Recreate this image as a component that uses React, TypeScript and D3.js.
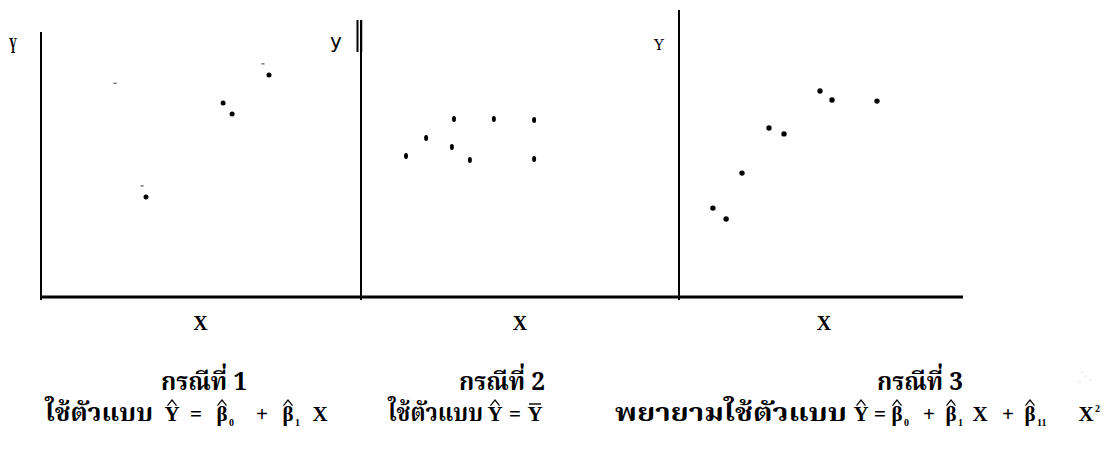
import React from "react";
import * as d3 from "d3";

// Data (arbitrary units 0..100 per panel)
const case1X = [35, 60.7, 63.7, 76];
const case1Y = [35.4, 68.9, 65, 78.9];
const case1TickX = [24.7, 33.7, 74];
const case1TickY = [76, 39.3, 82.9];

const case2X = [15, 21.7, 31, 30.3, 36.3, 44.3, 57.7, 57.7];
const case2Y = [50, 56.4, 63.2, 53.2, 48.6, 63.2, 62.9, 48.9];

const case3X = [11.3, 15.7, 21, 30, 35, 47, 51, 66];
const case3Y = [31.4, 27.5, 43.9, 60, 57.9, 73.2, 70, 69.6];

const caseTitles = ["กรณีที่ 1", "กรณีที่ 2", "กรณีที่ 3"];
const modelPrefix = ["ใช้ตัวแบบ", "ใช้ตัวแบบ", "พยายามใช้ตัวแบบ"];
const axisLabelX = "X";

const W = 1108;
const H = 449;
const baseY = 297;

const panels = [
  { ox: 41, end: 360, top: 32 },
  { ox: 361, end: 679, top: 20 },
  { ox: 679, end: 963, top: 10 },
];

const makeX = (ox: number) => d3.scaleLinear().domain([0, 100]).range([ox, ox + 300]);
const yScale = d3.scaleLinear().domain([0, 100]).range([296, 16]);

const thai = "'Noto Serif Thai', 'Noto Sans Thai', 'Tlwg Typo', 'Loma', 'DejaVu Serif', serif";
const serif = "'Liberation Serif', 'DejaVu Serif', serif";

function Hat({ x, y, w = 9 }: { x: number; y: number; w?: number }) {
  return (
    <path d={`M${x - w / 2},${y + 3} L${x},${y - 2.5} L${x + w / 2},${y + 3}`} fill="none" stroke="#000" strokeWidth={1.2} />
  );
}

function HatSym({ x, y, ch, size = 21 }: { x: number; y: number; ch: string; size?: number }) {
  return (
    <g>
      <text x={x} y={y} fontFamily={serif} fontWeight="bold" fontSize={size} textAnchor="middle">{ch}</text>
      <Hat x={x} y={y - size * 0.88} />
    </g>
  );
}

function Sym({ x, y, ch, size = 21 }: { x: number; y: number; ch: string; size?: number }) {
  return <text x={x} y={y} fontFamily={serif} fontWeight="bold" fontSize={size} textAnchor="middle">{ch}</text>;
}

function Sub({ x, y, ch }: { x: number; y: number; ch: string }) {
  return <text x={x} y={y + 5} fontFamily={serif} fontWeight="bold" fontSize={10} textAnchor="start">{ch}</text>;
}

export default function App() {
  const xs = panels.map((p) => makeX(p.ox));
  const ly = 421;
  const ty = 390;
  return (
    <svg width={W} height={H} style={{ position: "absolute", left: 0, top: 0, background: "#fff" }}>
      <rect width={W} height={H} fill="#fff" />
      {/* axes */}
      <line x1={40} x2={963} y1={baseY} y2={baseY} stroke="#000" strokeWidth={3} />
      {panels.map((p, i) => (
        <line key={i} x1={p.ox} x2={p.ox} y1={p.top} y2={300} stroke="#000" strokeWidth={2} />
      ))}
      <line x1={357.5} x2={357.5} y1={20} y2={52} stroke="#000" strokeWidth={2} />
      <line x1={361.5} x2={361.5} y1={20} y2={52} stroke="#000" strokeWidth={1.5} />

      {/* axis labels */}
      <text x={13} y={53} fontFamily={serif} fontWeight="bold" fontSize={23} textAnchor="middle" textLength={8} lengthAdjust="spacingAndGlyphs">Y</text>
      <text x={336} y={48} fontFamily="'DejaVu Sans', sans-serif" fontSize={20} textAnchor="middle">y</text>
      <text x={659} y={50} fontFamily="'DejaVu Serif', serif" fontSize={15} textAnchor="middle">Y</text>
      {panels.map((p, i) => (
        <text key={i} x={i === 2 ? 824 : (p.ox + p.end) / 2} y={330} fontFamily={serif} fontWeight="bold" fontSize={20} textAnchor="middle">{axisLabelX}</text>
      ))}

      {/* case 1 */}
      {case1X.map((v, i) => (
        <circle key={i} cx={xs[0](v)} cy={yScale(case1Y[i])} r={2.5} fill="#000" />
      ))}
      {case1TickX.map((v, i) => (
        <line key={i} x1={xs[0](v) - 1.5} x2={xs[0](v) + 1.5} y1={yScale(case1TickY[i])} y2={yScale(case1TickY[i])} stroke="#333" strokeWidth={1} />
      ))}
      {/* case 2 */}
      {case2X.map((v, i) => (
        <ellipse key={i} cx={xs[1](v)} cy={yScale(case2Y[i])} rx={2} ry={3} fill="#000" />
      ))}
      {/* case 3 */}
      {case3X.map((v, i) => (
        <circle key={i} cx={xs[2](v)} cy={yScale(case3Y[i])} r={2.7} fill="#000" />
      ))}

      {/* titles */}
      {[204, 502, 920].map((x, i) => (
        <text key={i} x={x} y={ty} fontFamily={thai} fontWeight="bold" fontSize={25} textAnchor="middle" textLength={86} lengthAdjust="spacingAndGlyphs">{caseTitles[i]}</text>
      ))}

      {/* model 1 */}
      <text x={45} y={ly} fontFamily={thai} fontWeight="bold" fontSize={24} textLength={108} lengthAdjust="spacingAndGlyphs">{modelPrefix[0]}</text>
      <HatSym x={172} y={ly} ch="Y" />
      <Sym x={196} y={ly} ch="=" />
      <HatSym x={222} y={ly} ch="β" />
      <Sub x={229} y={ly} ch="0" />
      <Sym x={262} y={ly} ch="+" />
      <HatSym x={288} y={ly} ch="β" />
      <Sub x={295} y={ly} ch="1" />
      <Sym x={320} y={ly} ch="X" />

      {/* model 2 */}
      <text x={388} y={ly} fontFamily={thai} fontWeight="bold" fontSize={24} textLength={95} lengthAdjust="spacingAndGlyphs">{modelPrefix[1]}</text>
      <HatSym x={495} y={ly} ch="Y" />
      <Sym x={515} y={ly} ch="=" />
      <Sym x={535} y={ly} ch="Y" />
      <line x1={529} x2={541} y1={ly - 17} y2={ly - 17} stroke="#000" strokeWidth={1.4} />

      {/* model 3 */}
      <text x={615} y={ly} fontFamily={thai} fontWeight="bold" fontSize={24} textLength={232} lengthAdjust="spacingAndGlyphs">{modelPrefix[2]}</text>
      <HatSym x={861} y={ly} ch="Y" />
      <Sym x={880} y={ly} ch="=" />
      <HatSym x={897} y={ly} ch="β" />
      <Sub x={904} y={ly} ch="0" />
      <Sym x={929} y={ly} ch="+" />
      <HatSym x={951} y={ly} ch="β" />
      <Sub x={958} y={ly} ch="1" />
      <Sym x={980} y={ly} ch="X" />
      <Sym x={1008} y={ly} ch="+" />
      <HatSym x={1030} y={ly} ch="β" />
      <Sub x={1037} y={ly} ch="11" />
      <Sym x={1086} y={ly} ch="X" />
      <text x={1095} y={ly - 9} fontFamily={serif} fontWeight="bold" fontSize={10}>2</text>
      {/* faint specks above the last term */}
      <circle cx={1082} cy={372} r={0.6} fill="#aaa" />
      <circle cx={1086} cy={376} r={0.6} fill="#aaa" />
      <circle cx={1090} cy={380} r={0.6} fill="#aaa" />
      <circle cx={1080} cy={382} r={0.6} fill="#aaa" />
    </svg>
  );
}
